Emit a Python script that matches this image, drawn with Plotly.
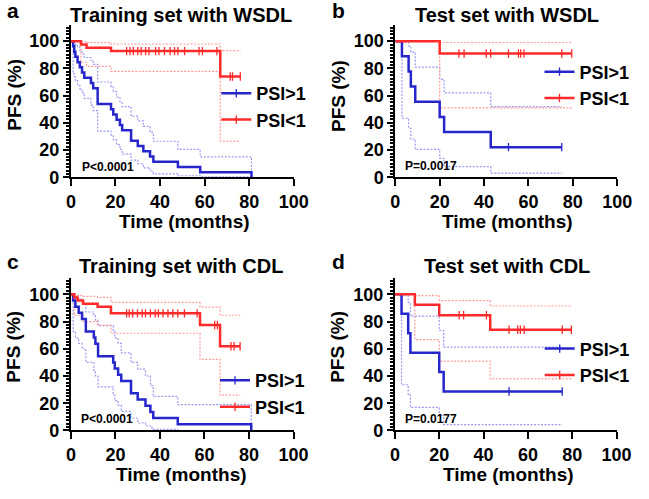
import plotly.graph_objects as go

W, H = 649, 499

# ---------------- data ----------------
# Panel a: Training set with WSDL
a_hi_t = [1, 1.5, 2, 3, 4, 5, 6, 9, 10, 12, 18, 19, 20.5, 22, 23, 27, 30, 32.5, 35.5, 37, 48, 58, 81]
a_hi_s = [96.2, 92.3, 88.5, 84.6, 80.8, 76.9, 73.1, 69.2, 65.4, 53.8, 50.0, 46.2, 42.3, 38.5, 34.6, 26.9, 23.1, 19.2, 15.4, 11.5, 7.7, 3.8, 0]
a_hi_up = [99.5, 99, 97.5, 95.5, 93, 90.5, 88, 86, 83, 70, 66.5, 63, 59, 55.5, 52, 45, 41.5, 37.5, 33, 26.5, 20.5, 15.1, 0]
a_hi_lo = [76, 74, 71, 68, 65, 62, 58, 53, 49, 34, 31, 27.5, 24, 20.5, 17, 12.7, 10, 7, 4.5, 2.5, 1.2, 0.3, 0]
a_hi_cens = []
a_lo_t = [4.5, 7, 18, 67]
a_lo_s = [97.6, 95.1, 92.7, 74.1]
a_lo_up = [99.7, 98.9, 97.9, 93.0]
a_lo_lo = [84.5, 81.5, 77.8, 26.6]
a_lo_cens = [25, 26.5, 28, 30, 31.5, 33.5, 35, 38, 39.5, 42, 44.5, 46.5, 48, 51, 57.5, 59, 65.5, 71.5, 72.5, 76]

# Panel b: Test set with WSDL
b_hi_t = [3, 6, 7, 9, 20, 22, 43]
b_hi_s = [88.9, 77.8, 66.7, 55.6, 44.4, 33.3, 22.2]
b_hi_up = [99, 96.5, 92, 81, 72, 62, 52]
b_hi_lo = [43.4, 36, 28, 20.5, 14, 7.9, 3.1]
b_hi_cens = [51, 75]
b_lo_t = [20]
b_lo_s = [90.9]
b_lo_up = [99]
b_lo_lo = [51]
b_lo_cens = [28.7, 31, 41, 43, 51, 55.5, 56.5, 58, 75, 79.5]

# Panel c: Training set with CDL
c_hi_t = [1, 2, 3.5, 5, 6.7, 10.3, 11, 12.2, 19, 19.7, 21.2, 22.6, 27, 30, 33.5, 35.7, 37, 48, 81]
c_hi_s = [95.5, 90.9, 86.4, 81.8, 72.7, 68.2, 63.6, 54.5, 50, 45.5, 40.9, 36.4, 27.3, 22.7, 18.2, 13.6, 9.1, 4.5, 0]
c_hi_up = [99.5, 98.5, 96.5, 93, 87, 84.7, 81, 77, 72.7, 68, 64, 57, 50, 45, 40, 33, 25, 19, 0]
c_hi_lo = [72.7, 68, 64, 60, 50, 44, 40, 32, 26, 22, 18.7, 14, 9, 5.5, 3.5, 2, 0.8, 0, 0]
c_hi_cens = []
c_lo_t = [1.5, 3, 5.5, 12, 18, 58, 67]
c_lo_s = [97.7, 95.4, 93.1, 90.8, 86.0, 77.4, 61.9]
c_lo_up = [99.7, 99.2, 98.5, 97.8, 94.0, 90.6, 84.6]
c_lo_lo = [84.6, 84.6, 80, 77.4, 71.4, 52.2, 26]
c_lo_cens = [25, 26.2, 27.7, 29.9, 32, 33.5, 35.7, 37.9, 39.3, 41.4, 43.6, 45.8, 48, 51, 56.7, 64.6, 65.8, 71.9, 73.3, 76]

# Panel d: Test set with CDL
d_hi_t = [3, 6, 7, 20, 22]
d_hi_s = [85.7, 71.4, 57.1, 42.9, 28.6]
d_hi_up = [99, 94, 84, 73.4, 61.2]
d_hi_lo = [33.6, 25.9, 17, 11, 4.3]
d_hi_cens = [51.5, 75.5]
d_lo_t = [9, 20, 43]
d_lo_s = [92.3, 84.6, 74.0]
d_lo_up = [99, 95.4, 91.4]
d_lo_lo = [66.7, 51, 37.9]
d_lo_cens = [29, 31, 41.3, 51.5, 55.4, 56.6, 58.3, 75.5, 79.6]

titles = ["Training set with WSDL", "Test set with WSDL", "Training set with CDL", "Test set with CDL"]
letters = ["a", "b", "c", "d"]
pvalues = ["P<0.0001", "P=0.0017", "P<0.0001", "P=0.0177"]
group_names = ["PSI>1", "PSI<1"]

panels = [
    dict(hi=(a_hi_t, a_hi_s, a_hi_up, a_hi_lo, a_hi_cens), lo=(a_lo_t, a_lo_s, a_lo_up, a_lo_lo, a_lo_cens)),
    dict(hi=(b_hi_t, b_hi_s, b_hi_up, b_hi_lo, b_hi_cens), lo=(b_lo_t, b_lo_s, b_lo_up, b_lo_lo, b_lo_cens)),
    dict(hi=(c_hi_t, c_hi_s, c_hi_up, c_hi_lo, c_hi_cens), lo=(c_lo_t, c_lo_s, c_lo_up, c_lo_lo, c_lo_cens)),
    dict(hi=(d_hi_t, d_hi_s, d_hi_up, d_hi_lo, d_hi_cens), lo=(d_lo_t, d_lo_s, d_lo_up, d_lo_lo, d_lo_cens)),
]

# ---------------- styling / layout ----------------
FONT = "Liberation Sans, Arial, Helvetica, sans-serif"
BLUE, RED = "#2626cc", "#ff2a2a"
BLUE_CI, RED_CI = "#9a9af0", "#ff9c9c"
colors = {"hi": (BLUE, BLUE_CI), "lo": (RED, RED_CI)}

# plot-area pixel boxes: (x_left, x_right, y_bottom(value 0), y_top)
YMAX = 112
boxes = [
    (68, 298, 181, 181 - YMAX * 1.39),
    (402.7, 631.7, 181, 181 - YMAX * 1.39),
    (68, 297.7, 439.3, 439.3 - YMAX * 1.39),
    (402.3, 631, 439.3, 439.3 - YMAX * 1.39),
]
legend_px = [(218, 108.7), (551.5, 86.7), (216.7, 401.7), (551.7, 369.3)]
pval_pos = [(3.9, 7.5), (3.6, 8), (3.5, 8.5), (3.8, 8.5)]


def step_xy(times, vals, end):
    xs = [0] + list(times)
    ys = [100] + list(vals)
    if end > xs[-1]:
        xs.append(end)
        ys.append(ys[-1])
    return xs, ys


def surv_at(t, times, vals):
    s = 100
    for tt, v in zip(times, vals):
        if tt <= t:
            s = v
    return s


fig = go.Figure()
layout = dict(width=W, height=H, margin=dict(l=0, r=0, t=0, b=0, pad=0), autosize=False,
              plot_bgcolor="white", paper_bgcolor="white", annotations=[])

for i, p in enumerate(panels):
    suf = "" if i == 0 else str(i + 1)
    xa, ya = "x" + suf, "y" + suf
    leg = "legend" + suf
    for key in ("hi", "lo"):
        t, s, up, lo, cens = p[key]
        col, cicol = colors[key]
        end = max([t[-1]] + list(cens))
        for band in (up, lo):
            bx, by = step_xy(t, band, end)
            fig.add_trace(go.Scatter(x=bx, y=by, mode="lines",
                                     line=dict(color=cicol, width=1.2, dash="2px,1.5px", shape="hv"),
                                     xaxis=xa, yaxis=ya, showlegend=False, hoverinfo="skip"))
    for key, name in (("hi", group_names[0]), ("lo", group_names[1])):
        t, s, up, lo, cens = p[key]
        col, cicol = colors[key]
        end = max([t[-1]] + list(cens))
        sx, sy = step_xy(t, s, end)
        fig.add_trace(go.Scatter(x=sx, y=sy, mode="lines", line=dict(color=col, width=2.5, shape="hv"),
                                 xaxis=xa, yaxis=ya, showlegend=False, name=name))
        mk = dict(symbol="line-ns-open", size=6, color=col, line=dict(color=col, width=1.3))
        if cens:
            fig.add_trace(go.Scatter(x=cens, y=[surv_at(c, t, s) for c in cens], mode="markers", marker=mk,
                                     xaxis=xa, yaxis=ya, showlegend=False, name=name))
        # legend entry (line with censor tick)
        fig.add_trace(go.Scatter(x=[None], y=[None], mode="lines+markers", name=name,
                                 line=dict(color=col, width=2.5), marker=mk,
                                 xaxis=xa, yaxis=ya, showlegend=True, legend=leg))

    xl, xr, yb, yt = boxes[i]
    common = dict(showline=True, linecolor="black", linewidth=2, ticks="outside", tickwidth=2, tickcolor="black",
                  showgrid=False, zeroline=False, tick0=0, dtick=20,
                  tickfont=dict(family=FONT, size=18, color="black", weight="bold"))
    layout["xaxis" + suf] = dict(domain=[xl / W, xr / W], range=[0, 100], anchor=ya, ticklen=7, **common)
    layout["yaxis" + suf] = dict(domain=[(H - yb) / H, (H - yt) / H], range=[0, YMAX], anchor=xa, ticklen=6,
                                 minor=dict(dtick=2.5, tick0=0, ticks="outside", ticklen=3, tickwidth=1.5,
                                            tickcolor="black"), **common)
    lx, ly = legend_px[i]
    layout[leg] = dict(x=lx / W, y=(H - ly) / H, xanchor="left", yanchor="middle", bgcolor="rgba(0,0,0,0)",
                       borderwidth=0, itemwidth=30, tracegroupgap=0, traceorder="normal",
                       font=dict(family=FONT, size=18, color="black", weight="bold"))
    px_, py_ = pval_pos[i]
    layout["annotations"].append(dict(text=pvalues[i], x=px_, y=py_, xref=xa, yref=ya, xanchor="left",
                                      yanchor="middle", showarrow=False,
                                      font=dict(family=FONT, size=12, color="black", weight="bold")))


def ann(text, x, y, size, angle=0, xanchor="center"):
    layout["annotations"].append(dict(text=text, x=x / W, y=(H - y) / H, xref="paper", yref="paper",
                                      xanchor=xanchor, yanchor="middle", showarrow=False, textangle=angle,
                                      font=dict(family=FONT, size=size, color="black", weight="bold")))


letter_pos = [(8, 10.5), (344, 10.5), (8, 266.5), (344, 266.5)]
title_pos = [(182, 15.5), (517.5, 15.5), (182, 271), (518, 271)]
xtitle_pos = [(185, 226), (518, 226), (182, 484), (519, 484)]
ytitle_pos = [(9, 97), (343.5, 98), (9, 354), (343.5, 354)]
for i in range(4):
    ann(letters[i], *letter_pos[i], 21)
    ann(titles[i], *title_pos[i], 20)
    ann("Time (months)", *xtitle_pos[i], 19)
    ann("PFS (%)", *ytitle_pos[i], 19, angle=-90)

fig.update_layout(**layout)
fig.write_html("out.html", config={"displayModeBar": False},
               post_script="document.body.style.margin='0px';")
